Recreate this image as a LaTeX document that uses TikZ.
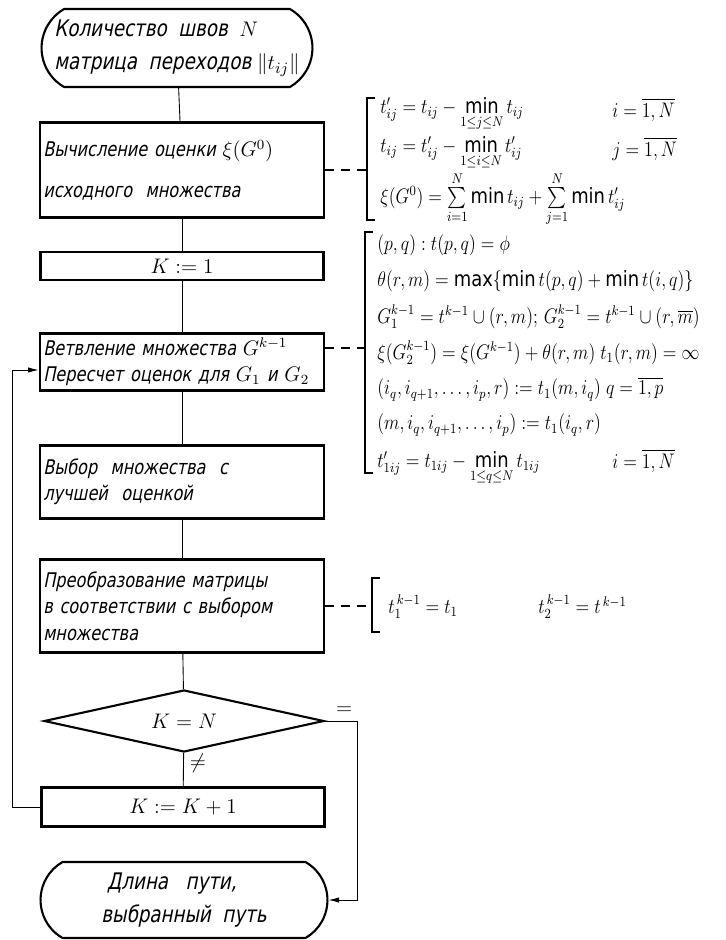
\documentclass[tikz,border=0pt]{standalone}
\usepackage{amsmath, amssymb}
\usepackage{graphicx}
\usepackage{fontspec}
\setmainfont{DejaVu Sans}
\newfontfamily\hand{DejaVu Sans}[FakeStretch=0.8, FakeSlant=0.2]
\newcommand{\narrow}[1]{\scalebox{0.85}[1]{$#1$}}
\usepackage{tikz}
\usetikzlibrary{arrows.meta, calc, positioning, shapes.geometric, shapes.misc}

\begin{document}
\begin{tikzpicture}[x=0.02cm, y=-0.02cm,
  box/.style={draw, line width=1.2pt, minimum width=5.66cm, inner sep=2pt,
    font=\hand\fontsize{11.5}{15}\selectfont},
  boxl/.style={box, text width=5.55cm, align=left},
  term/.style={draw, line width=1.2pt, rounded rectangle, rounded rectangle arc length=120,
    minimum width=5.56cm, align=left, inner sep=2pt, font=\hand\fontsize{13}{19}\selectfont},
  link/.style={line width=0.5pt},
  dlink/.style={line width=0.6pt, dash pattern=on 5pt off 4pt},
  brk/.style={line width=0.6pt},
  frm/.style={anchor=west, inner sep=0pt, font=\fontsize{12}{14}\selectfont}]

\useasboundingbox (0,0) rectangle (726,940);

% Blocks
\node[term, minimum height=1.56cm] (start) at (177,48)
  {Количество \ швов \ $N$\\матрица \ переходов $\|t_{ij}\|$};
\node[boxl, minimum height=1.9cm] (est) at (182,170)
  {Вычисление оценки $\xi(G^0)$\\[8pt]исходного \ множества};
\node[box, minimum height=0.56cm, font=\fontsize{12}{15}\selectfont] (kone) at (182,266) {$K := 1$};
\node[boxl, minimum height=1.14cm] (branch) at (182,362)
  {Ветвление множества $G^{k-1}$\\Пересчет оценок для $G_1$ и $G_2$};
\node[boxl, minimum height=1.46cm] (choose) at (182,482)
  {Выбор \ множества \ с\\лучшей \ оценкой};
\node[boxl, minimum height=1.86cm] (transf) at (182,606)
  {Преобразование матрицы\\в соответствии с выбором\\множества};
\node[diamond, draw, line width=1.2pt, aspect=4.5, inner sep=0pt,
  minimum width=5.6cm, minimum height=1.24cm,
  font=\fontsize{13}{16}\selectfont] (test) at (184,721) {$K = N$};
\node[box, minimum height=0.78cm, font=\fontsize{13}{16}\selectfont] (kinc) at (183,807) {$K := K+1$};
\node[term, minimum height=1.52cm, minimum width=5.88cm] (stop) at (184,900)
  {\ Длина \ \ пути,\\выбранный \ путь};

% Flow
\draw[link] (start) -- (est);
\draw[link] (est) -- (kone);
\draw[link] (kone) -- (branch);
\draw[link] (branch) -- (choose);
\draw[link] (choose) -- (transf);
\draw[link] (transf) -- (test);
\draw[link] (test) -- (kinc) node[pos=0.3, right, font=\fontsize{12}{14}\selectfont] {$\neq$};
\coordinate (fb) at (12,370);
\draw[link, -{Latex[length=6pt, width=3pt]}] (kinc.west) -| (fb) -- (branch.west |- fb);
\coordinate (rr) at (357,900);
\draw[link, -{Latex[length=6pt, width=3pt]}] (test.east) -| (rr)
  node[pos=0.3, above, font=\fontsize{12}{14}\selectfont] {$=$} -- (stop.east);

% Formulas 1
\coordinate (b1t) at (367,98);
\coordinate (b1b) at (367,220);
\draw[brk] ($(b1t)+(8,0)$) -- (b1t) -- (b1b) -- ++(8,0);
\draw[dlink] (est.east) -- (est.east -| b1t);
\node[frm] (f11) at (380,114) {\narrow{t'_{ij}=t_{ij}-\min\limits_{1\le j\le N} t_{ij}}};
\node[frm] (f12) at (380,153) {\narrow{t_{ij}=t'_{ij}-\min\limits_{1\le i\le N} t'_{ij}}};
\node[frm] (f13) at (380,199) {\narrow{\xi(G^0)=\sum\limits_{i=1}^{N}\min t_{ij}+\sum\limits_{j=1}^{N}\min t'_{ij}}};
\node[frm] (r11) at (612,110) {\narrow{i=\overline{1,N}}};
\node[frm] (r12) at (612,149) {\narrow{j=\overline{1,N}}};

% Formulas 2
\coordinate (b2t) at (365,232);
\coordinate (b2b) at (365,473);
\coordinate (b2j) at (365,348);
\draw[brk] ($(b2t)+(8,0)$) -- (b2t) -- (b2b) -- ++(8,0);
\draw[dlink] (branch.east |- b2j) -- (b2j);
\node[frm] (f21) at (377,245) {\narrow{(p,q):t(p,q)=\phi}};
\node[frm] (f22) at (377,281) {\narrow{\theta(r,m)=\max\{\min t(p,q)+\min t(i,q)\}}};
\node[frm] (f23) at (377,317) {\narrow{G_1^{k-1}=t^{k-1}\cup(r,m);\,G_2^{k-1}=t^{k-1}\cup(r,\overline{m})}};
\node[frm] (f24) at (377,353) {\narrow{\xi(G_2^{k-1})=\xi(G^{k-1})+\theta(r,m)\;t_1(r,m)=\infty}};
\node[frm] (f25) at (377,389) {\narrow{(i_q,i_{q+1},\ldots,i_p,r):=t_1(m,i_q)\;q=\overline{1,p}}};
\node[frm] (f26) at (377,425) {\narrow{(m,i_q,i_{q+1},\ldots,i_p):=t_1(i_q,r)}};
\node[frm] (f27) at (377,468) {\narrow{t'_{1ij}=t_{1ij}-\min\limits_{1\le q\le N} t_{1ij}}};
\node[frm] (r27) at (612,461) {\narrow{i=\overline{1,N}}};

% Formulas 3
\coordinate (b3t) at (372,578);
\coordinate (b3b) at (372,632);
\draw[brk] ($(b3t)+(8,0)$) -- (b3t) -- (b3b) -- ++(8,0);
\draw[dlink] (transf.east) -- (transf.east -| b3t);
\node[frm] (f31) at (388,607) {\narrow{t_1^{\,k-1}=t_1}};
\node[frm] (f32) at (538,607) {\narrow{t_2^{\,k-1}=t^{\,k-1}}};

\end{tikzpicture}
\end{document}
